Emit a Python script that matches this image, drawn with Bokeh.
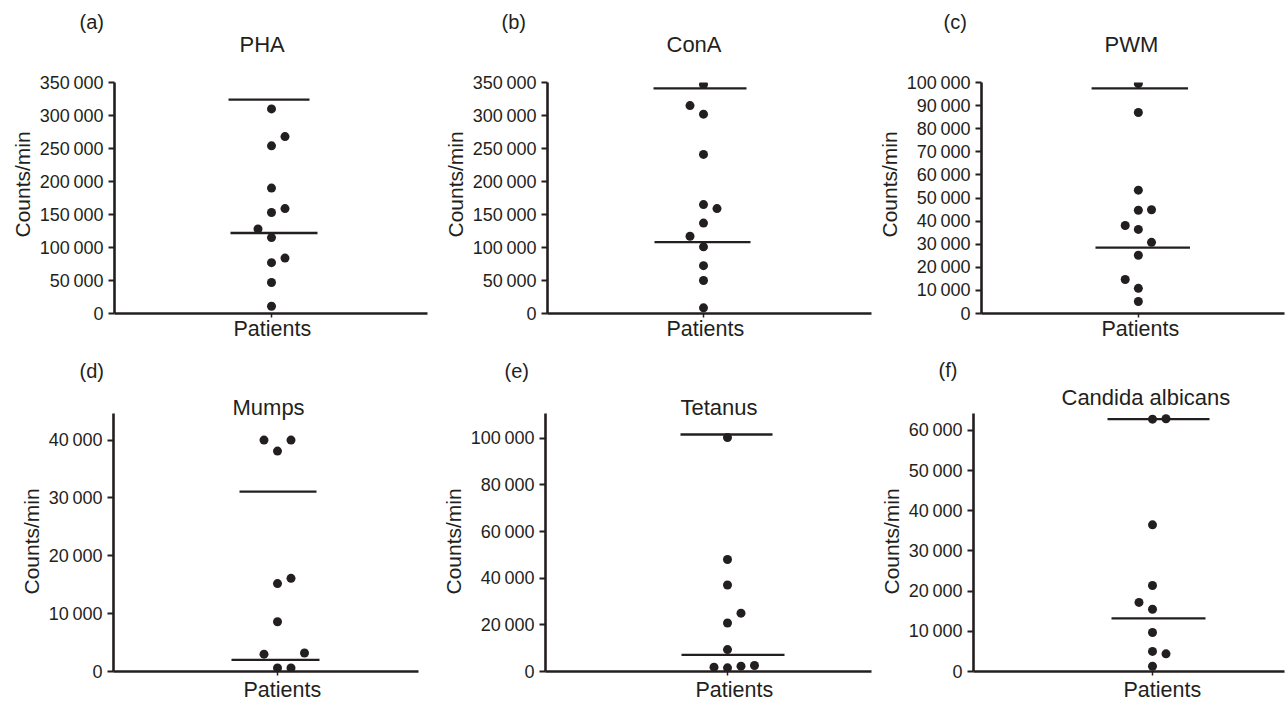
import math
from bokeh.plotting import figure
from bokeh.models import Range1d, FixedTicker, Title, ColumnDataSource
from bokeh.layouts import row, column
from bokeh.embed import file_html
from bokeh.resources import INLINE

# ---------------- data ----------------
panel_letters = ["(a)", "(b)", "(c)", "(d)", "(e)", "(f)"]
panel_titles = ["PHA", "ConA", "PWM", "Mumps", "Tetanus", "Candida albicans"]
y_axis_title = "Counts/min"
x_axis_title = "Patients"

pha_values = [310000, 268000, 254000, 190000, 159000, 153000, 128000, 115000, 84000, 77000, 47000, 11000]
pha_lines = [324000, 122000]
cona_values = [347000, 315000, 302000, 241000, 165000, 159000, 137000, 117000, 101000, 72500, 50000, 8600]
cona_lines = [341000, 108000]
pwm_values = [99500, 87000, 53400, 44700, 44900, 38100, 36400, 30800, 25200, 14700, 10900, 5200]
pwm_lines = [97500, 28500]
mumps_values = [40000, 40000, 38100, 16100, 15200, 8600, 3000, 3200, 600, 600]
mumps_lines = [31100, 2000]
tetanus_values = [100300, 48000, 37100, 25000, 20800, 9400, 1850, 1560, 2280, 2560]
tetanus_lines = [101600, 7100]
candida_values = [62800, 62900, 36500, 21400, 17200, 15500, 9700, 5000, 4400, 1300]
candida_lines = [62800, 13200]

pha_ticks = [0, 50000, 100000, 150000, 200000, 250000, 300000, 350000]
cona_ticks = [0, 50000, 100000, 150000, 200000, 250000, 300000, 350000]
pwm_ticks = [0, 10000, 20000, 30000, 40000, 50000, 60000, 70000, 80000, 90000, 100000]
mumps_ticks = [0, 10000, 20000, 30000, 40000]
tetanus_ticks = [0, 20000, 40000, 60000, 80000, 100000]
candida_ticks = [0, 10000, 20000, 30000, 40000, 50000, 60000]

y_max = [350000, 350000, 100000, 44600, 110600, 64200]

# ---------------- layout / style (beeswarm slots, pixel geometry) ----------------
pha_slots = [0, 1, 0, 0, 1, 0, -1, 0, 1, 0, 0, 0]
cona_slots = [0, -1, 0, 0, 0, 1, 0, -1, 0, 0, 0, 0]
pwm_slots = [0, 0, 0, 0, 1, -1, 0, 1, 0, -1, 0, 0]
mumps_slots = [-1, 1, 0, 1, 0, 0, -1, 2, 0, 1]
tetanus_slots = [0, 0, 0, 1, 0, 0, -1, 0, 1, 2]
candida_slots = [0, 1, 0, 0, -1, 0, 0, 0, 1, 0]
SLOT = 13.5

# fx, fy, w, h: figure box; L, R, T, B: frame edges; cx: dot column centre (canvas px)
geom = [
    dict(fx=0, fy=0, w=428, h=345, L=114, R=427, T=82, B=313, cx=271,
         ext=[(-43, 38), (-41, 46)], let_off=-35, tit_off=125, pat_off=119, ylab_off=76),
    dict(fx=428, fy=0, w=444, h=345, L=547, R=871, T=82, B=313, cx=703,
         ext=[(-50, 43), (-49, 47)], let_off=-46, tit_off=119, pat_off=119, ylab_off=76),
    dict(fx=872, fy=0, w=413, h=345, L=973, R=1284, T=82, B=313, cx=1134,
         ext=[(-48, 51), (-44, 53)], let_off=-38, tit_off=123, pat_off=120, ylab_off=76),
    dict(fx=0, fy=345, w=428, h=357, L=113, R=418, T=412, B=672, cx=277,
         ext=[(-38, 39), (-46, 42)], let_off=-34, tit_off=119, pat_off=130, ylab_off=77),
    dict(fx=428, fy=345, w=444, h=357, L=545, R=871, T=412, B=672, cx=727,
         ext=[(-47, 45), (-46, 57)], let_off=-41, tit_off=135, pat_off=150, ylab_off=77),
    dict(fx=872, fy=345, w=413, h=357, L=973, R=1284, T=412, B=672, cx=1152,
         ext=[(-45, 57), (-41, 53)], let_off=-35, tit_off=88, pat_off=150, ylab_off=77),
]
title_standoff = [52, 52, 52, -12.2, -12.2, 8]
letter_standoff = [-58, -58, -58, 28.7, 28.7, -8]
letter_valign = ["bottom", "bottom", "bottom", "top", "top", "top"]
pat_standoff = [-5, -5, -5, 1, 1, 1]

values = [pha_values, cona_values, pwm_values, mumps_values, tetanus_values, candida_values]
lines = [pha_lines, cona_lines, pwm_lines, mumps_lines, tetanus_lines, candida_lines]
slots = [pha_slots, cona_slots, pwm_slots, mumps_slots, tetanus_slots, candida_slots]
ticks = [pha_ticks, cona_ticks, pwm_ticks, mumps_ticks, tetanus_ticks, candida_ticks]

INK = "#231f20"
FONT = "Liberation Sans"


def fmt(v):
    return f"{v:,}".replace(",", "\u2009")


def make_panel(i):
    g = geom[i]
    p = figure(width=g["w"], height=g["h"], output_backend="svg", toolbar_location=None,
               x_range=Range1d(g["L"] - g["cx"], g["R"] - g["cx"]),
               y_range=Range1d(0, y_max[i]),
               min_border_left=g["L"] - g["fx"], min_border_right=g["fx"] + g["w"] - g["R"],
               min_border_top=g["T"] - g["fy"], min_border_bottom=g["fy"] + g["h"] - g["B"],
               background_fill_color="white", border_fill_color="white")
    p.outline_line_color = None
    p.grid.visible = False

    ya = p.yaxis[0]
    ya.ticker = FixedTicker(ticks=ticks[i])
    ya.major_label_overrides = {t: fmt(t) for t in ticks[i]}
    ya.minor_tick_line_color = None
    ya.major_tick_in = 0
    ya.major_tick_out = 6
    ya.major_tick_line_width = 2
    ya.major_tick_line_color = INK
    ya.axis_line_width = 2.6
    ya.axis_line_color = INK
    ya.major_label_standoff = 5
    ya.major_label_text_font = FONT
    ya.major_label_text_font_size = "18px"
    ya.major_label_text_color = INK

    xa = p.xaxis[0]
    xa.ticker = FixedTicker(ticks=[], minor_ticks=[0])
    xa.minor_tick_in = 0
    xa.minor_tick_out = 4
    xa.minor_tick_line_width = 1.5
    xa.minor_tick_line_color = INK
    xa.major_tick_line_color = None
    xa.axis_line_width = 2.6
    xa.axis_line_color = INK

    src = ColumnDataSource(dict(x=[s * SLOT for s in slots[i]], y=values[i]))
    p.scatter("x", "y", source=src, size=9, fill_color=INK, line_color=None)

    lsrc = ColumnDataSource(dict(x0=[e[0] for e in g["ext"]], x1=[e[1] for e in g["ext"]],
                                 y=lines[i]))
    p.segment(x0="x0", y0="y", x1="x1", y1="y", source=lsrc, line_width=2.3, line_color=INK)

    common = dict(text_font=FONT, text_color=INK, text_font_style="normal", align="left")
    # nearest the frame first
    p.add_layout(Title(text=panel_titles[i], text_font_size="22px", offset=g["tit_off"],
                       standoff=title_standoff[i], **common), "above")
    p.add_layout(Title(text=panel_letters[i], text_font_size="20px", offset=g["let_off"],
                       standoff=letter_standoff[i], vertical_align=letter_valign[i], **common),
                 "above")
    p.add_layout(Title(text=x_axis_title, text_font_size="21.5px", offset=g["pat_off"],
                       standoff=pat_standoff[i], **common), "below")
    p.add_layout(Title(text=y_axis_title, text_font_size="21px", offset=g["ylab_off"],
                       standoff=6, **common), "left")
    return p


panels = [make_panel(i) for i in range(6)]
layout = column(row(*panels[:3]), row(*panels[3:]))
open("out.html", "w").write(file_html(layout, INLINE))
